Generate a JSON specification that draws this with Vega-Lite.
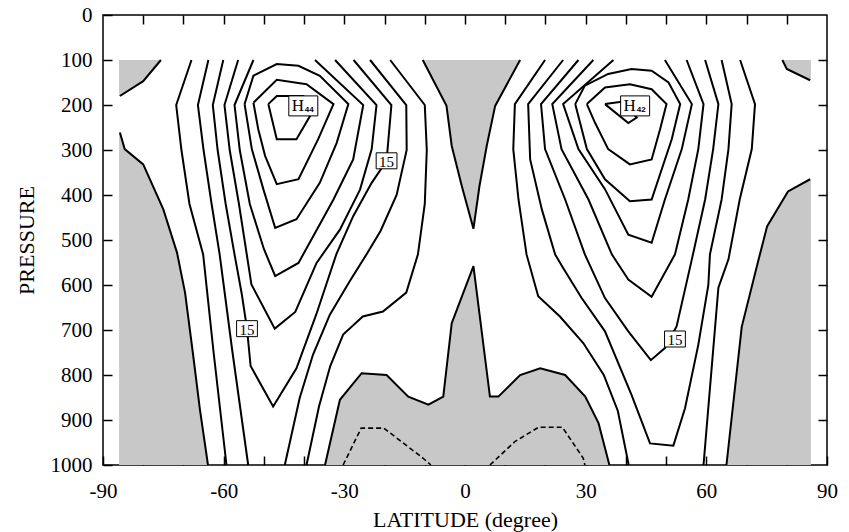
{
  "$schema": "https://vega.github.io/schema/vega-lite/v6.json",
  "width": 724,
  "height": 450,
  "autosize": "none",
  "padding": {"left": 103, "top": 15, "right": 22, "bottom": 67},
  "background": "white",
  "config": {
    "view": {"stroke": "black", "strokeWidth": 1.5},
    "font": "Liberation Serif",
    "axis": {"grid": false, "domain": false, "tickColor": "black", "tickWidth": 1.5, "labelColor": "black", "titleColor": "black", "labelFont": "Liberation Serif", "titleFont": "Liberation Serif", "titleFontWeight": "normal"}
  },
  "datasets": {
    "gray": [
      {"g":"A","p":100,"a":-86,"b":-75.6},{"g":"A","p":147,"a":-86,"b":-80},{"g":"A","p":180,"a":-86,"b":-85.8},
      {"g":"B","p":261,"a":-86,"b":-85.8},{"g":"B","p":298,"a":-86,"b":-84.6},{"g":"B","p":332,"a":-86,"b":-80},{"g":"B","p":432,"a":-86,"b":-75},{"g":"B","p":528,"a":-86,"b":-71.6},{"g":"B","p":617,"a":-86,"b":-69.6},{"g":"B","p":755,"a":-86,"b":-67.6},{"g":"B","p":877,"a":-86,"b":-65.9},{"g":"B","p":1000,"a":-86,"b":-63.9},
      {"g":"C","p":100,"a":78.9,"b":86},{"g":"C","p":120,"a":80,"b":86},{"g":"C","p":145,"a":85.8,"b":86},
      {"g":"D","p":365,"a":85.8,"b":86},{"g":"D","p":392,"a":80.3,"b":86},{"g":"D","p":470,"a":75.1,"b":86},{"g":"D","p":550,"a":72.8,"b":86},{"g":"D","p":693,"a":68.8,"b":86},{"g":"D","p":1000,"a":65,"b":86},
      {"g":"E","p":100,"a":-10.5,"b":13.7},{"g":"E","p":202,"a":-4.6,"b":7.5},{"g":"E","p":291,"a":-3.3,"b":5.4},{"g":"E","p":380,"a":-0.8,"b":3.6},{"g":"E","p":475,"a":2.1,"b":2.1}
    ],
    "gapF": [
      {"lat":-34.8,"p":1000},{"lat":-31.1,"p":855},{"lat":-25.7,"p":796},{"lat":-19.5,"p":800},{"lat":-14.1,"p":848},{"lat":-9.1,"p":866},{"lat":-5.4,"p":848},{"lat":-3.3,"p":685},{"lat":2.1,"p":558},{"lat":6.2,"p":848},{"lat":8.3,"p":848},{"lat":13.7,"p":800},{"lat":18.7,"p":785},{"lat":24.9,"p":800},{"lat":29.9,"p":848},{"lat":33.2,"p":907},{"lat":35.9,"p":1000}
    ],
    "lines": [
      {"c":"z0A","lat":-75.6,"p":100},{"c":"z0A","lat":-80,"p":147},{"c":"z0A","lat":-85.8,"p":180},
      {"c":"z0B","lat":-85.8,"p":261},{"c":"z0B","lat":-84.6,"p":298},{"c":"z0B","lat":-80,"p":332},{"c":"z0B","lat":-75,"p":432},{"c":"z0B","lat":-71.6,"p":528},{"c":"z0B","lat":-69.6,"p":617},{"c":"z0B","lat":-67.6,"p":755},{"c":"z0B","lat":-65.9,"p":877},{"c":"z0B","lat":-63.9,"p":1000},
      {"c":"z0C","lat":78.9,"p":100},{"c":"z0C","lat":80,"p":120},{"c":"z0C","lat":85.8,"p":145},
      {"c":"z0D","lat":85.8,"p":365},{"c":"z0D","lat":80.3,"p":392},{"c":"z0D","lat":75.1,"p":470},{"c":"z0D","lat":72.8,"p":550},{"c":"z0D","lat":68.8,"p":693},{"c":"z0D","lat":65,"p":1000},
      {"c":"z0E","lat":-10.5,"p":100},{"c":"z0E","lat":-4.6,"p":202},{"c":"z0E","lat":-3.3,"p":291},{"c":"z0E","lat":-0.8,"p":380},{"c":"z0E","lat":2.1,"p":475},{"c":"z0E","lat":3.6,"p":380},{"c":"z0E","lat":5.4,"p":291},{"c":"z0E","lat":7.5,"p":202},{"c":"z0E","lat":13.7,"p":100},
      {"c":"z0F","lat":-34.8,"p":1000},{"c":"z0F","lat":-31.1,"p":855},{"c":"z0F","lat":-25.7,"p":796},{"c":"z0F","lat":-19.5,"p":800},{"c":"z0F","lat":-14.1,"p":848},{"c":"z0F","lat":-9.1,"p":866},{"c":"z0F","lat":-5.4,"p":848},{"c":"z0F","lat":-3.3,"p":685},{"c":"z0F","lat":2.1,"p":558},{"c":"z0F","lat":6.2,"p":848},{"c":"z0F","lat":8.3,"p":848},{"c":"z0F","lat":13.7,"p":800},{"c":"z0F","lat":18.7,"p":785},{"c":"z0F","lat":24.9,"p":800},{"c":"z0F","lat":29.9,"p":848},{"c":"z0F","lat":33.2,"p":907},{"c":"z0F","lat":35.9,"p":1000},
      {"c":"s5p","lat":-68,"p":100},{"c":"s5p","lat":-71.8,"p":200},{"c":"s5p","lat":-70.5,"p":300},{"c":"s5p","lat":-68.5,"p":420},{"c":"s5p","lat":-65.1,"p":532},{"c":"s5p","lat":-62.5,"p":750},{"c":"s5p","lat":-59.3,"p":1000},
      {"c":"s10p","lat":-63.8,"p":100},{"c":"s10p","lat":-66.4,"p":200},{"c":"s10p","lat":-65,"p":300},{"c":"s10p","lat":-63,"p":420},{"c":"s10p","lat":-61,"p":532},{"c":"s10p","lat":-57.8,"p":750},{"c":"s10p","lat":-53.9,"p":1000},
      {"c":"s15","lat":-60.1,"p":100},{"c":"s15","lat":-62.7,"p":200},{"c":"s15","lat":-61.5,"p":300},{"c":"s15","lat":-59.5,"p":420},{"c":"s15","lat":-57.3,"p":532},{"c":"s15","lat":-55.5,"p":620},{"c":"s15","lat":-54.2,"p":697},{"c":"s15","lat":-53.3,"p":780},{"c":"s15","lat":-47.7,"p":870},{"c":"s15","lat":-41.9,"p":785},{"c":"s15","lat":-37,"p":666},{"c":"s15","lat":-32,"p":532},{"c":"s15","lat":-27.8,"p":447},{"c":"s15","lat":-23.2,"p":373},{"c":"s15","lat":-19.5,"p":324},{"c":"s15","lat":-18.3,"p":200},{"c":"s15","lat":-27.7,"p":100},
      {"c":"s20","lat":-56.4,"p":100},{"c":"s20","lat":-59.8,"p":200},{"c":"s20","lat":-58.5,"p":300},{"c":"s20","lat":-56.2,"p":420},{"c":"s20","lat":-53.1,"p":599},{"c":"s20","lat":-47.3,"p":697},{"c":"s20","lat":-42.2,"p":660},{"c":"s20","lat":-36.9,"p":551},{"c":"s20","lat":-31.1,"p":477},{"c":"s20","lat":-26.1,"p":388},{"c":"s20","lat":-23.2,"p":298},{"c":"s20","lat":-22,"p":200},{"c":"s20","lat":-32.3,"p":100},
      {"c":"s25","lat":-52.6,"p":100},{"c":"s25","lat":-57.3,"p":200},{"c":"s25","lat":-56,"p":300},{"c":"s25","lat":-53.5,"p":420},{"c":"s25","lat":-50,"p":520},{"c":"s25","lat":-47.2,"p":580},{"c":"s25","lat":-41.4,"p":551},{"c":"s25","lat":-37.7,"p":491},{"c":"s25","lat":-32.7,"p":410},{"c":"s25","lat":-27.8,"p":321},{"c":"s25","lat":-25.3,"p":200},{"c":"s25","lat":-37.3,"p":100},
      {"c":"s30","lat":-54.8,"p":198},{"c":"s30","lat":-52.6,"p":135},{"c":"s30","lat":-46.8,"p":109},{"c":"s30","lat":-41.4,"p":113},{"c":"s30","lat":-36.1,"p":135},{"c":"s30","lat":-29,"p":198},{"c":"s30","lat":-31.9,"p":284},{"c":"s30","lat":-36.1,"p":373},{"c":"s30","lat":-41.9,"p":454},{"c":"s30","lat":-47.2,"p":473},{"c":"s30","lat":-50.1,"p":388},{"c":"s30","lat":-53,"p":298},{"c":"s30","lat":-54.8,"p":198},
      {"c":"s35","lat":-52.6,"p":195},{"c":"s35","lat":-46.8,"p":144},{"c":"s35","lat":-39.4,"p":154},{"c":"s35","lat":-32.7,"p":198},{"c":"s35","lat":-36.5,"p":276},{"c":"s35","lat":-41.4,"p":365},{"c":"s35","lat":-46.8,"p":376},{"c":"s35","lat":-49.7,"p":313},{"c":"s35","lat":-51.4,"p":254},{"c":"s35","lat":-52.6,"p":195},
      {"c":"s40","lat":-48.9,"p":198},{"c":"s40","lat":-46.8,"p":180},{"c":"s40","lat":-40.2,"p":180},{"c":"s40","lat":-37.7,"p":202},{"c":"s40","lat":-38.5,"p":224},{"c":"s40","lat":-41.9,"p":276},{"c":"s40","lat":-46.8,"p":276},{"c":"s40","lat":-48.9,"p":198},
      {"c":"s10e","lat":-23.6,"p":100},{"c":"s10e","lat":-14.6,"p":200},{"c":"s10e","lat":-14.5,"p":300},{"c":"s10e","lat":-17,"p":400},{"c":"s10e","lat":-21,"p":480},{"c":"s10e","lat":-24.5,"p":532},{"c":"s10e","lat":-28.7,"p":592},{"c":"s10e","lat":-33.6,"p":666},{"c":"s10e","lat":-37.8,"p":755},{"c":"s10e","lat":-41.1,"p":851},{"c":"s10e","lat":-44.8,"p":1000},
      {"c":"s5e","lat":-18.6,"p":100},{"c":"s5e","lat":-10,"p":200},{"c":"s5e","lat":-9.5,"p":300},{"c":"s5e","lat":-10,"p":420},{"c":"s5e","lat":-11.7,"p":532},{"c":"s5e","lat":-14.6,"p":617},{"c":"s5e","lat":-20.4,"p":659},{"c":"s5e","lat":-25.4,"p":670},{"c":"s5e","lat":-30.3,"p":710},{"c":"s5e","lat":-33.5,"p":780},{"c":"s5e","lat":-36.3,"p":870},{"c":"s5e","lat":-39.4,"p":1000},
      {"c":"n5e","lat":19.9,"p":100},{"c":"n5e","lat":12.4,"p":198},{"c":"n5e","lat":12,"p":298},{"c":"n5e","lat":13.3,"p":410},{"c":"n5e","lat":15.3,"p":532},{"c":"n5e","lat":18.2,"p":625},{"c":"n5e","lat":23.6,"p":670},{"c":"n5e","lat":29.4,"p":729},{"c":"n5e","lat":34.5,"p":800},{"c":"n5e","lat":38,"p":880},{"c":"n5e","lat":40.7,"p":1000},
      {"c":"n10","lat":24.4,"p":100},{"c":"n10","lat":15.7,"p":198},{"c":"n10","lat":16.2,"p":321},{"c":"n10","lat":19.1,"p":432},{"c":"n10","lat":22.4,"p":532},{"c":"n10","lat":24.4,"p":562},{"c":"n10","lat":29,"p":629},{"c":"n10","lat":34.8,"p":703},{"c":"n10","lat":41.4,"p":844},{"c":"n10","lat":46,"p":952},{"c":"n10","lat":51.8,"p":957},{"c":"n10","lat":54.7,"p":874},{"c":"n10","lat":58,"p":733},{"c":"n10","lat":60.5,"p":600},{"c":"n10","lat":60.9,"p":532},{"c":"n10","lat":63.8,"p":410},{"c":"n10","lat":65.5,"p":298},{"c":"n10","lat":66.3,"p":198},{"c":"n10","lat":63.8,"p":100},
      {"c":"n15","lat":28.2,"p":100},{"c":"n15","lat":18.9,"p":198},{"c":"n15","lat":19.9,"p":298},{"c":"n15","lat":24.9,"p":410},{"c":"n15","lat":29.8,"p":532},{"c":"n15","lat":34.8,"p":629},{"c":"n15","lat":40.6,"p":703},{"c":"n15","lat":46.2,"p":767},{"c":"n15","lat":49.7,"p":740},{"c":"n15","lat":52.6,"p":692},{"c":"n15","lat":56.4,"p":543},{"c":"n15","lat":59.7,"p":410},{"c":"n15","lat":61.7,"p":298},{"c":"n15","lat":63,"p":198},{"c":"n15","lat":59.7,"p":100},
      {"c":"n20","lat":31.9,"p":100},{"c":"n20","lat":21.7,"p":198},{"c":"n20","lat":24,"p":298},{"c":"n20","lat":30.7,"p":410},{"c":"n20","lat":36.5,"p":532},{"c":"n20","lat":40.6,"p":588},{"c":"n20","lat":46.4,"p":626},{"c":"n20","lat":52.2,"p":532},{"c":"n20","lat":55.5,"p":410},{"c":"n20","lat":58,"p":298},{"c":"n20","lat":59.3,"p":198},{"c":"n20","lat":55.1,"p":100},
      {"c":"n25","lat":36.9,"p":100},{"c":"n25","lat":24.4,"p":198},{"c":"n25","lat":28.2,"p":298},{"c":"n25","lat":34.8,"p":387},{"c":"n25","lat":40.6,"p":488},{"c":"n25","lat":46.4,"p":506},{"c":"n25","lat":49.7,"p":410},{"c":"n25","lat":53.9,"p":298},{"c":"n25","lat":56.4,"p":198},{"c":"n25","lat":49.7,"p":100},
      {"c":"n30","lat":27.4,"p":198},{"c":"n30","lat":29.8,"p":157},{"c":"n30","lat":35.6,"p":131},{"c":"n30","lat":41.4,"p":120},{"c":"n30","lat":46.4,"p":124},{"c":"n30","lat":50.6,"p":150},{"c":"n30","lat":53.5,"p":198},{"c":"n30","lat":51.4,"p":276},{"c":"n30","lat":46.4,"p":410},{"c":"n30","lat":41,"p":414},{"c":"n30","lat":34.8,"p":365},{"c":"n30","lat":30.3,"p":298},{"c":"n30","lat":27.4,"p":198},
      {"c":"n35","lat":30.3,"p":198},{"c":"n35","lat":34.8,"p":161},{"c":"n35","lat":41,"p":154},{"c":"n35","lat":46.4,"p":165},{"c":"n35","lat":50.1,"p":198},{"c":"n35","lat":48.5,"p":254},{"c":"n35","lat":46.4,"p":321},{"c":"n35","lat":41,"p":332},{"c":"n35","lat":35.6,"p":298},{"c":"n35","lat":32.3,"p":239},{"c":"n35","lat":30.3,"p":198},
      {"c":"n40","lat":34.8,"p":198},{"c":"n40","lat":38.9,"p":193},{"c":"n40","lat":42.7,"p":228},{"c":"n40","lat":40.6,"p":240},{"c":"n40","lat":34.8,"p":198},
      {"c":"n5p","lat":68.4,"p":100},{"c":"n5p","lat":72.1,"p":198},{"c":"n5p","lat":71.3,"p":298},{"c":"n5p","lat":68.3,"p":410},{"c":"n5p","lat":65.5,"p":543},{"c":"n5p","lat":63,"p":606},{"c":"n5p","lat":59.3,"p":1000}
    ],
    "dashes": [
      {"c":"sd","lat":-30.3,"p":1000},{"c":"sd","lat":-25.8,"p":918},{"c":"sd","lat":-20.2,"p":918},{"c":"sd","lat":-10.4,"p":985},{"c":"sd","lat":-8.5,"p":1000},
      {"c":"nd","lat":6.2,"p":1000},{"c":"nd","lat":12.4,"p":948},{"c":"nd","lat":18.3,"p":916},{"c":"nd","lat":24.2,"p":916},{"c":"nd","lat":29.4,"p":985},{"c":"nd","lat":29.8,"p":1000}
    ],
    "labels15": [
      {"lat":-19.5,"p":324,"t":"15"},{"lat":-54.2,"p":697,"t":"15"},{"lat":52.2,"p":720,"t":"15"}
    ],
    "highs": [
      {"lat":-40.2,"p":202,"t":"H","sub":"44"},{"lat":42.3,"p":202,"t":"H","sub":"42"}
    ]
  },
  "layer": [
    {
      "data": {"name": "gray"},
      "mark": {"type": "area", "orient": "horizontal", "color": "#c8c8c8"},
      "encoding": {
        "y": {"field": "p", "type": "quantitative", "scale": {"domain": [0, 1000], "reverse": true, "nice": false, "zero": false},
          "axis": {"orient": "left", "values": [0,100,200,300,400,500,600,700,800,900,1000], "labelExpr": "'' + datum.value", "tickSize": -9, "labelPadding": 20, "labelFontSize": 21, "title": "PRESSURE", "titleFontSize": 22, "titlePadding": 12}},
        "x": {"field": "a", "type": "quantitative", "stack": null, "scale": {"domain": [-90, 90], "nice": false, "zero": false},
          "axis": {"orient": "bottom", "values": [-90,-80,-70,-60,-50,-40,-30,-20,-10,0,10,20,30,40,50,60,70,80,90], "labelExpr": "datum.value % 30 === 0 ? '' + datum.value : ''", "labelFlush": false, "labelOverlap": false, "tickSize": -9, "labelPadding": 24, "labelFontSize": 21, "title": "LATITUDE (degree)", "titleFontSize": 22, "titlePadding": 8}},
        "x2": {"field": "b"},
        "detail": {"field": "g"},
        "order": {"value": null}
      }
    },
    {
      "data": {"name": "gapF"},
      "mark": {"type": "area", "color": "#c8c8c8"},
      "encoding": {
        "x": {"field": "lat", "type": "quantitative", "axis": {"orient": "top", "values": [-80,-70,-60,-50,-40,-30,-20,-10,0,10,20,30,40,50,60,70,80], "labels": false, "tickSize": -9, "title": null}},
        "y": {"field": "p", "type": "quantitative", "axis": {"orient": "right", "values": [100,200,300,400,500,600,700,800,900], "labels": false, "tickSize": -9, "title": null}},
        "y2": {"datum": 1000}
      }
    },
    {
      "data": {"name": "lines"},
      "mark": {"type": "line", "color": "black", "strokeWidth": 2},
      "encoding": {
        "x": {"field": "lat", "type": "quantitative", "axis": null},
        "y": {"field": "p", "type": "quantitative", "axis": null},
        "detail": {"field": "c"},
        "order": {"value": null}
      }
    },
    {
      "data": {"name": "dashes"},
      "mark": {"type": "line", "color": "black", "strokeWidth": 1.6, "strokeDash": [5, 3]},
      "encoding": {
        "x": {"field": "lat", "type": "quantitative", "axis": null},
        "y": {"field": "p", "type": "quantitative", "axis": null},
        "detail": {"field": "c"},
        "order": {"value": null}
      }
    },
    {
      "data": {"name": "labels15"},
      "mark": {"type": "point", "shape": "M-1.3,-1L1.3,-1L1.3,1L-1.3,1Z", "size": 256, "filled": true, "fill": "white", "stroke": "black", "strokeWidth": 1, "opacity": 1},
      "encoding": {
        "x": {"field": "lat", "type": "quantitative", "axis": null},
        "y": {"field": "p", "type": "quantitative", "axis": null}
      }
    },
    {
      "data": {"name": "labels15"},
      "mark": {"type": "text", "font": "Liberation Serif", "fontSize": 15, "align": "center", "baseline": "middle", "color": "black", "dy": 1},
      "encoding": {
        "x": {"field": "lat", "type": "quantitative", "axis": null},
        "y": {"field": "p", "type": "quantitative", "axis": null},
        "text": {"field": "t"}
      }
    },
    {
      "data": {"name": "highs"},
      "mark": {"type": "point", "shape": "M-1.45,-1L1.45,-1L1.45,1L-1.45,1Z", "size": 400, "filled": true, "fill": "white", "stroke": "black", "strokeWidth": 1, "opacity": 1},
      "encoding": {
        "x": {"field": "lat", "type": "quantitative", "axis": null},
        "y": {"field": "p", "type": "quantitative", "axis": null}
      }
    },
    {
      "data": {"name": "highs"},
      "mark": {"type": "text", "font": "Liberation Serif", "fontSize": 17, "align": "center", "baseline": "middle", "color": "black", "dx": -5.5, "dy": 0},
      "encoding": {
        "x": {"field": "lat", "type": "quantitative", "axis": null},
        "y": {"field": "p", "type": "quantitative", "axis": null},
        "text": {"field": "t"}
      }
    },
    {
      "data": {"name": "highs"},
      "mark": {"type": "text", "font": "Liberation Sans", "fontSize": 8, "fontWeight": "bold", "align": "center", "baseline": "middle", "color": "black", "dx": 6, "dy": 4},
      "encoding": {
        "x": {"field": "lat", "type": "quantitative", "axis": null},
        "y": {"field": "p", "type": "quantitative", "axis": null},
        "text": {"field": "sub"}
      }
    }
  ],
  "resolve": {"axis": {"x": "independent", "y": "independent"}}
}
